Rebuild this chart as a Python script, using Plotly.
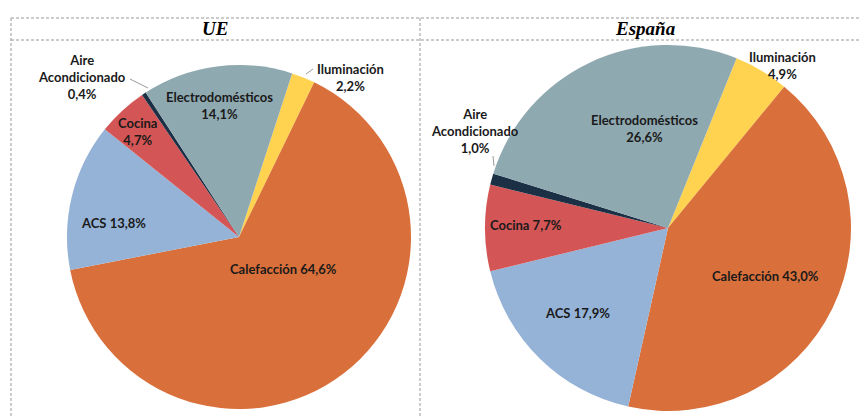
import plotly.graph_objects as go

W, H = 861, 416

categories = ["Iluminación", "Calefacción", "ACS", "Cocina", "Aire Acondicionado", "Electrodomésticos"]
ue_values = [2.2, 64.6, 13.8, 4.7, 0.4, 14.1]
es_values = [4.9, 43.0, 17.9, 7.7, 1.0, 26.6]
colors = ["#FFD34F", "#D9703B", "#95B3D7", "#D45555", "#1B2F45", "#8FA9B1"]
titles = ["UE", "España"]

def px_x(x):
    return x / W

def px_y(y):
    return 1 - y / H

def fmt(v):
    return f"{v:.1f}".replace(".", ",") + "%"

fig = go.Figure()
fig.add_trace(go.Pie(
    labels=categories, values=ue_values, sort=False, direction="clockwise",
    rotation=18, marker=dict(colors=colors, line=dict(width=0)),
    textinfo="none", hoverinfo="label+value", showlegend=False,
    domain=dict(x=[px_x(67), px_x(411)], y=[px_y(409), px_y(65)]),
))
fig.add_trace(go.Pie(
    labels=categories, values=es_values, sort=False, direction="clockwise",
    rotation=22, marker=dict(colors=colors, line=dict(width=0)),
    textinfo="none", hoverinfo="label+value", showlegend=False,
    domain=dict(x=[px_x(485), px_x(851)], y=[px_y(411), px_y(45)]),
))

font = dict(family="Lato, Open Sans, sans-serif", size=13, color="#1a1a1a")

def label(x, y, text):
    fig.add_annotation(x=px_x(x), y=px_y(y), xref="paper", yref="paper",
                       text=text, showarrow=False, font=font,
                       xanchor="center", yanchor="middle", align="center")

ue = dict(zip(categories, ue_values))
es = dict(zip(categories, es_values))

# UE labels
label(82, 77, "<b>Aire<br>Acondicionado<br>" + fmt(ue["Aire Acondicionado"]) + "</b>")
label(219, 105, "<b>Electrodomésticos<br>" + fmt(ue["Electrodomésticos"]) + "</b>")
label(137, 131, "<b>Cocina<br>" + fmt(ue["Cocina"]) + "</b>")
label(113, 223, "<b>ACS " + fmt(ue["ACS"]) + "</b>")
label(283, 269, "<b>Calefacción " + fmt(ue["Calefacción"]) + "</b>")
label(350, 77, "<b>Iluminación<br>" + fmt(ue["Iluminación"]) + "</b>")

# España labels
label(475, 131, "<b>Aire<br>Acondicionado<br>" + fmt(es["Aire Acondicionado"]) + "</b>")
label(644, 128, "<b>Electrodomésticos<br>" + fmt(es["Electrodomésticos"]) + "</b>")
label(782, 65, "<b>Iluminación<br>" + fmt(es["Iluminación"]) + "</b>")
label(526, 225, "<b>Cocina " + fmt(es["Cocina"]) + "</b>")
label(577, 313, "<b>ACS " + fmt(es["ACS"]) + "</b>")
label(765, 276, "<b>Calefacción " + fmt(es["Calefacción"]) + "</b>")

# titles
for cx, t in zip([215, 645], titles):
    fig.add_annotation(x=px_x(cx), y=px_y(29), xref="paper", yref="paper",
                       text="<b><i>" + t + "</i></b>", showarrow=False,
                       font=dict(family="Liberation Serif, serif", size=19, color="#000"),
                       xanchor="center", yanchor="middle")

shapes = []
dash = dict(color="#999999", width=1, dash="3px,2px")
for yy in [18, 40]:
    shapes.append(dict(type="line", xref="paper", yref="paper",
                       x0=px_x(11), x1=1, y0=px_y(yy), y1=px_y(yy), line=dash))
for xx in [11, 420]:
    shapes.append(dict(type="line", xref="paper", yref="paper",
                       x0=px_x(xx), x1=px_x(xx), y0=px_y(18), y1=0, line=dash))
# leader lines
lead = dict(color="#9a9a9a", width=1)
for (x0, y0, x1, y1) in [(130, 79, 148, 88), (306, 74, 313, 69), (493, 156, 494, 166)]:
    shapes.append(dict(type="line", xref="paper", yref="paper",
                       x0=px_x(x0), x1=px_x(x1), y0=px_y(y0), y1=px_y(y1), line=lead))

fig.update_layout(width=W, height=H, margin=dict(l=0, r=0, t=0, b=0),
                  paper_bgcolor="white", plot_bgcolor="white", shapes=shapes)
fig.write_html("out.html", config={"displayModeBar": False},
               post_script="document.body.style.margin='0px';document.body.style.overflow='hidden';")
